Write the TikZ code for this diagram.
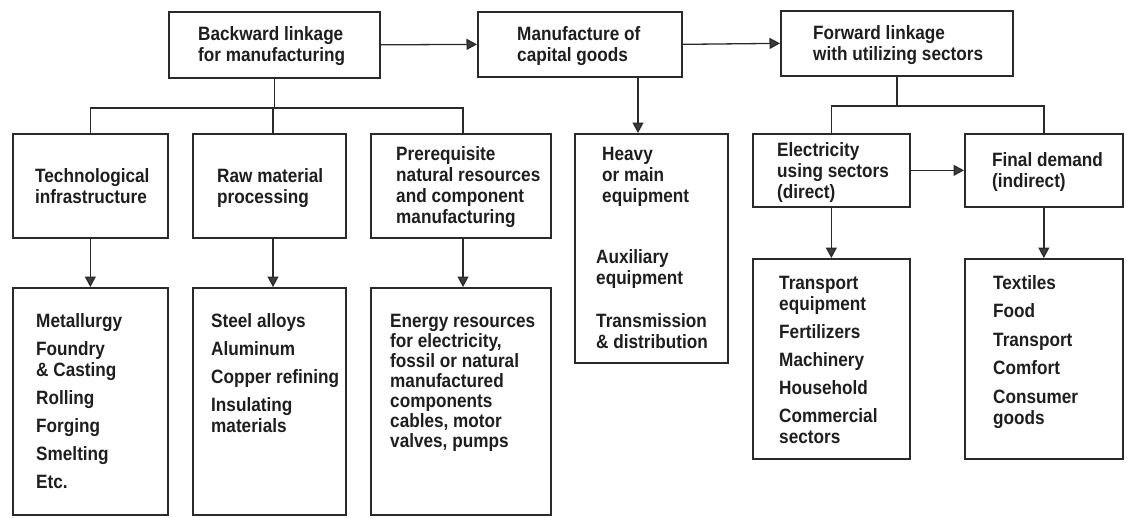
\documentclass[tikz,border=0pt]{standalone}
\usepackage{fontspec}
\setmainfont{Liberation Sans}[FakeStretch=0.89]
\usetikzlibrary{arrows.meta}
\definecolor{ink}{HTML}{2A2A2A}
\definecolor{txt}{HTML}{1E1E1E}
\definecolor{tip}{HTML}{3C3C3C}
\newcommand\tallst{\rule{0pt}{15pt}}
\begin{document}
\begin{tikzpicture}[x=1pt,y=-1pt,
  box/.style={draw=ink, line width=1.7pt, inner sep=0pt, anchor=north west},
  lbl/.style={anchor=north west, inner sep=0pt, align=left, text=txt,
              font=\fontsize{19.3}{21}\selectfont\bfseries},
  lbltight/.style={lbl, font=\fontsize{19.3}{20}\selectfont\bfseries},
  ln/.style={draw=ink, line width=1.3pt},
  arr/.style={ln, -{Triangle[length=10.5pt,width=11pt,fill=tip]}},
]
\useasboundingbox (0,0) rectangle (1127,517);

% ---- boxes ----
\node[box, minimum width=211pt, minimum height=66pt] (b1) at (168,11) {};
\node[box, minimum width=204pt, minimum height=65pt] (b2) at (477,11) {};
\node[box, minimum width=232pt, minimum height=65pt] (b3) at (780,10) {};
\node[box, minimum width=155pt, minimum height=104pt] (tech) at (12,133) {};
\node[box, minimum width=153pt, minimum height=104pt] (raw) at (192,133) {};
\node[box, minimum width=180pt, minimum height=104pt] (pre) at (370,133) {};
\node[box, minimum width=153pt, minimum height=229pt] (heavy) at (574,133) {};
\node[box, minimum width=157pt, minimum height=73pt] (elec) at (752,133) {};
\node[box, minimum width=158pt, minimum height=73pt] (final) at (964,133) {};
\node[box, minimum width=155pt, minimum height=227pt] (techb) at (12,287) {};
\node[box, minimum width=153pt, minimum height=227pt] (rawb) at (192,287) {};
\node[box, minimum width=180pt, minimum height=227pt] (preb) at (370,287) {};
\node[box, minimum width=157pt, minimum height=200pt] (trans) at (752,258) {};
\node[box, minimum width=158pt, minimum height=200pt] (texb) at (964,258) {};

% ---- texts ----
\node[lbl] (tb1) at (198,25) {\tallst Backward linkage\\for manufacturing};
\node[lbl] (tb2) at (517,25) {\tallst Manufacture of\\capital goods};
\node[lbl] (tb3) at (813,24) {\tallst Forward linkage\\with utilizing sectors};
\node[lbl] (ttech) at (35,167) {\tallst Technological\\infrastructure};
\node[lbl] (traw) at (217,167) {\tallst Raw material\\processing};
\node[lbl] (tpre) at (396,145) {\tallst Prerequisite\\natural resources\\and component\\manufacturing};
\node[lbl] (theavy) at (596,145) {\tallst\hspace*{6pt}Heavy\\\hspace*{6pt}or main\\\hspace*{6pt}equipment\\[40pt]Auxiliary\\equipment\\[22pt]Transmission\\\& distribution};
\node[lbl] (telec) at (777,141) {\tallst Electricity\\using sectors\\(direct)};
\node[lbl] (tfinal) at (992,151) {\tallst Final demand\\(indirect)};
\node[lbl] (ttechb) at (36,312) {\tallst Metallurgy\\[7pt]Foundry\\\& Casting\\[7pt]Rolling\\[7pt]Forging\\[7pt]Smelting\\[7pt]Etc.};
\node[lbl] (trawb) at (211,312) {\tallst Steel alloys\\[7pt]Aluminum\\[7pt]Copper refining\\[7pt]Insulating\\materials};
\node[lbltight] (tpreb) at (390,312) {\tallst Energy resources\\for electricity,\\fossil or natural\\manufactured\\components\\cables, motor\\valves, pumps};
\node[lbl] (ttrans) at (779,274) {\tallst Transport\\equipment\\[7pt]Fertilizers\\[7pt]Machinery\\[7pt]Household\\[7pt]Commercial\\sectors};
\node[lbl] (ttex) at (993,274) {\tallst Textiles\\[7.5pt]Food\\[7.5pt]Transport\\[7.5pt]Comfort\\[7.5pt]Consumer\\goods};

% ---- connectors ----
\coordinate (jl) at (273,108);
\coordinate (jr) at (463,108);
\coordinate (jf) at (896,106);
\coordinate (ah) at (638,0);

\draw[arr] (b1.east) -- (b2.west);
\draw[arr] (b2.east) -- (b3.west);

\draw[ln] (b1.south) -- (b1.south |- jl);
\draw[ln] (tech.north) |- (jl) -- (jr) -- (jr |- pre.north);
\draw[ln] (jl) -- (jl |- raw.north);

\draw[arr] (tech.south) -- (techb.north);
\draw[arr] (jl |- raw.south) -- (jl |- rawb.north);
\draw[arr] (jr |- pre.south) -- (jr |- preb.north);

\draw[arr] (b2.south -| ah) -- (heavy.north -| ah);

\draw[ln] (b3.south) -- (b3.south |- jf);
\draw[ln] (elec.north) |- (jf) -| (final.north);
\draw[arr] (elec.east) -- (final.west);
\draw[arr] (elec.south) -- (trans.north);
\draw[arr] (final.south) -- (texb.north);
\end{tikzpicture}
\end{document}
